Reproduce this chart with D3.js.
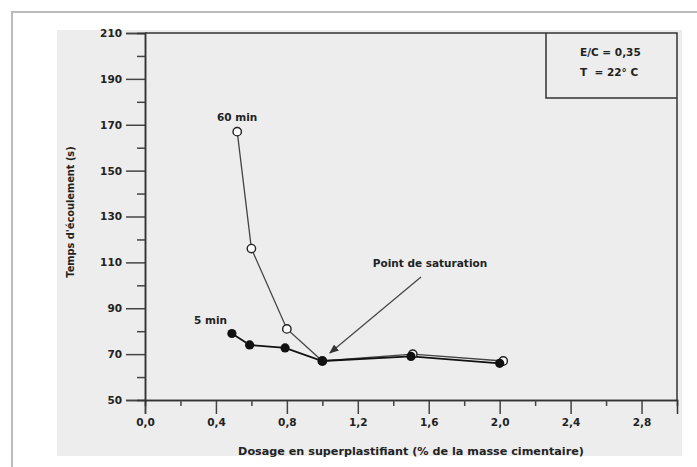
<!DOCTYPE html>
<html>
<head>
<meta charset="utf-8">
<script src="https://cdn.jsdelivr.net/npm/d3@7/dist/d3.min.js"></script>
<style>
  body { margin: 0; background: #fff; }
  svg text { font-family: "DejaVu Sans", "Liberation Sans", sans-serif; font-weight: bold; fill: #222; }
</style>
</head>
<body>
<div id="chart"></div>
<script>
// data
const dosage60 = [0.52, 0.60, 0.80, 1.00, 1.51, 2.02];
const temps60 = [167, 116, 81, 67, 70, 67];
const dosage5 = [0.49, 0.59, 0.79, 1.00, 1.50, 2.00];
const temps5 = [79, 74, 72.7, 67, 69, 66];
const xTicks = [0, 0.4, 0.8, 1.2, 1.6, 2.0, 2.4, 2.8];
const yTicks = [50, 70, 90, 110, 130, 150, 170, 190, 210];

const width = 697, height = 467;
const svg = d3.select("#chart").append("svg")
  .attr("width", width)
  .attr("height", height);

// page frame + paper
svg.append("rect").attr("x", 12).attr("y", 12).attr("width", 690).attr("height", 470)
  .attr("fill", "#fff").attr("stroke", "#bbb").attr("stroke-width", 2);
svg.append("rect").attr("x", 57).attr("y", 30).attr("width", 625).attr("height", 426)
  .attr("fill", "#ededed");

const x = d3.scaleLinear().domain([0, 3.0]).range([145, 677]);
const y = d3.scaleLinear().domain([50, 210]).range([400, 33]);
const fmt = d => d3.format(".1f")(d).replace(".", ",");

// top and right frame
svg.append("path")
  .attr("d", `M${x(0)},${y(210)}H${x(3)}V${y(50)}`)
  .attr("fill", "none").attr("stroke", "#333").attr("stroke-width", 1.5);

// x axis
const xAxis = svg.append("g").attr("transform", `translate(0,${y(50)})`);
xAxis.call(d3.axisBottom(x).tickValues(xTicks).tickFormat(fmt).tickSize(14).tickPadding(5));
xAxis.append("g").call(d3.axisBottom(x).tickValues(d3.range(0.2, 3.0, 0.4)).tickSize(6).tickFormat(""));
xAxis.selectAll(".domain").attr("stroke", "#333").attr("stroke-width", 1.5);
xAxis.selectAll(".tick line").attr("stroke", "#444").attr("stroke-width", 1.5);
xAxis.selectAll("text").attr("font-size", 10.5).attr("fill", "#222");

// y axis
const yAxis = svg.append("g").attr("transform", `translate(${x(0)},0)`);
yAxis.call(d3.axisLeft(y).tickValues(yTicks).tickSize(19).tickPadding(4));
yAxis.append("g").call(d3.axisLeft(y).tickValues(d3.range(60, 210, 20)).tickSize(8).tickFormat(""));
yAxis.selectAll(".domain").attr("stroke", "#333").attr("stroke-width", 1.5);
yAxis.selectAll(".tick line").attr("stroke", "#444").attr("stroke-width", 1.5);
yAxis.selectAll("text").attr("font-size", 10.5).attr("fill", "#222");

// axis titles
svg.append("text")
  .attr("x", 411).attr("y", 455)
  .attr("text-anchor", "middle").attr("font-size", 11.2)
  .text("Dosage en superplastifiant (% de la masse cimentaire)");
svg.append("text")
  .attr("transform", "translate(74,212) rotate(-90)")
  .attr("text-anchor", "middle").attr("font-size", 9.8)
  .text("Temps d'écoulement (s)");

// series
const line = d3.line().x(d => x(d[0])).y(d => y(d[1]));
const pts60 = dosage60.map((d, i) => [d, temps60[i]]);
const pts5 = dosage5.map((d, i) => [d, temps5[i]]);

svg.append("path").datum(pts60).attr("d", line)
  .attr("fill", "none").attr("stroke", "#444").attr("stroke-width", 1.3);
svg.append("path").datum(pts5).attr("d", line)
  .attr("fill", "none").attr("stroke", "#111").attr("stroke-width", 1.8);

svg.selectAll("circle.open").data(pts60).enter().append("circle")
  .attr("class", "open")
  .attr("cx", d => x(d[0])).attr("cy", d => y(d[1])).attr("r", 4.2)
  .attr("fill", "#fafafa").attr("stroke", "#222").attr("stroke-width", 1.4);
svg.selectAll("circle.full").data(pts5).enter().append("circle")
  .attr("class", "full")
  .attr("cx", d => x(d[0])).attr("cy", d => y(d[1])).attr("r", 4.6)
  .attr("fill", "#111");

// annotations
svg.append("text").attr("x", x(0.52)).attr("y", y(167) - 11)
  .attr("text-anchor", "middle").attr("font-size", 10.5).text("60 min");
svg.append("text").attr("x", x(0.37)).attr("y", y(85) + 4)
  .attr("text-anchor", "middle").attr("font-size", 10.5).text("5 min");
svg.append("text").attr("x", 430).attr("y", 267)
  .attr("text-anchor", "middle").attr("font-size", 10.5).text("Point de saturation");

svg.append("defs").append("marker")
  .attr("id", "arrow").attr("viewBox", "0 0 10 10")
  .attr("refX", 9).attr("refY", 5)
  .attr("markerWidth", 8).attr("markerHeight", 8)
  .attr("orient", "auto")
  .append("path").attr("d", "M0,1L10,5L0,9z").attr("fill", "#333");
svg.append("line")
  .attr("x1", 421).attr("y1", 277)
  .attr("x2", x(1.02) + 4).attr("y2", y(67) - 8)
  .attr("stroke", "#444").attr("stroke-width", 1.2)
  .attr("marker-end", "url(#arrow)");

// conditions box
svg.append("path")
  .attr("d", `M546,${y(210)}V98H${x(3)}`)
  .attr("fill", "none").attr("stroke", "#333").attr("stroke-width", 1.5);
svg.append("text").attr("x", 580).attr("y", 56).attr("font-size", 10.5).text("E/C = 0,35");
svg.append("text").attr("x", 580).attr("y", 76).attr("font-size", 10.5)
  .attr("xml:space", "preserve").text("T  = 22° C");
</script>
</body>
</html>
